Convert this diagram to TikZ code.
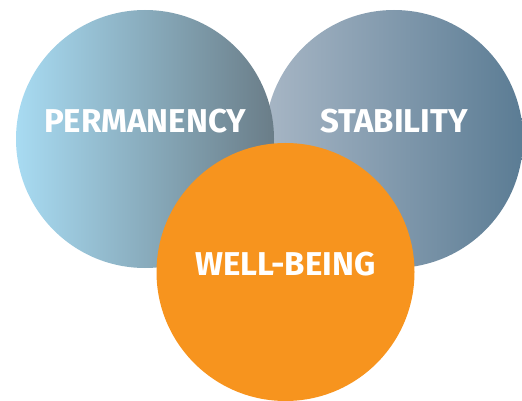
\documentclass[tikz,border=0pt]{standalone}
\usepackage{fontspec}
\setmainfont{Fira Sans}
\definecolor{skyedge}{HTML}{A8DBF2}
\definecolor{slatedark}{HTML}{6A7D88}
\definecolor{greyedge}{HTML}{A7B6C5}
\definecolor{steeldark}{HTML}{5B7C94}
\definecolor{wellorange}{HTML}{F7941E}
\tikzset{%
  disc/.style     = {shape=circle, inner sep=0pt, minimum size=258pt},%
  permdisc/.style = {disc, left color=skyedge, middle color=slatedark!80!skyedge,%
                     right color=slatedark},%
  stabdisc/.style = {disc, left color=greyedge, middle color=steeldark!55!greyedge,%
                     right color=steeldark},%
  welldisc/.style = {disc, fill=wellorange},%
  lbl/.style      = {text=white, font=\bfseries\fontsize{33}{33}\selectfont}%
}
\begin{document}
\begin{tikzpicture}[x=1pt,y=-1pt]
	\useasboundingbox (0,0) rectangle (522,401);
	\node [stabdisc] (stab) at (394,139) {};
	\node [permdisc] (perm) at (145,139) {};
	\node [welldisc] (well) at (285.5,272) {};
	\node [lbl] at ([yshift=18pt]perm.center) {PERMANENCY};
	\node [lbl] at ([yshift=18pt]stab.center) {STABILITY};
	\node [lbl] at ([yshift=8pt]well.center) {WELL-BEING};
\end{tikzpicture}
\end{document}
